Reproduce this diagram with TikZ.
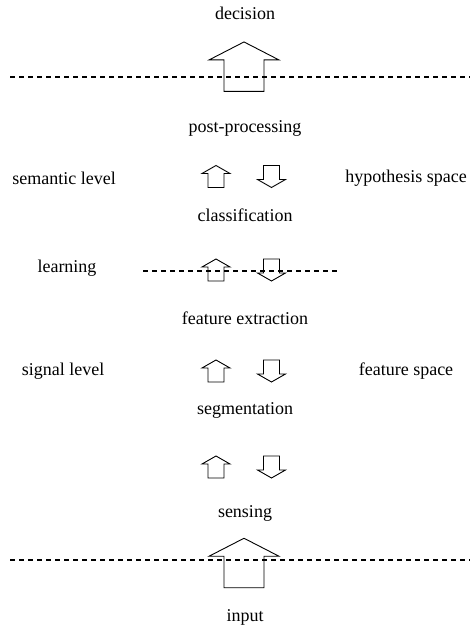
\documentclass[tikz,border=0pt]{standalone}
\usepackage{fontspec}
\setmainfont{Liberation Serif}
\tikzset{
  lbl/.style={font=\fontsize{18}{20}\selectfont, inner sep=0pt},
  arrowline/.style={line width=0.9pt, line join=miter},
  border/.style={line width=1.9pt, dash pattern=on 5pt off 4pt},
  pics/blockarrow/.style={code={
    \draw[arrowline] (0,-11) -- (14,-3) -- (8,-3) -- (8,11) -- (-8,11) -- (-8,-3) -- (-14,-3) -- cycle;
  }}
}
\begin{document}
\begin{tikzpicture}[x=1pt,y=-1pt]
\useasboundingbox (0,0) rectangle (470,631);
% labels down the middle
\node[lbl] (decision) at (245,13) {decision};
\node[lbl] (post) at (245,128) {post-processing};
\node[lbl] (classif) at (245,215) {classification};
\node[lbl] (featext) at (245,318) {feature extraction};
\node[lbl] (segm) at (245,410) {segmentation};
\node[lbl] (sensing) at (245,513) {sensing};
\node[lbl] (input) at (245,617) {input};
% side labels
\node[lbl] (semantic) at (64,178) {semantic level};
\node[lbl,anchor=east] (hypo) at (467,178) {hypothesis space};
\node[lbl] (learning) at (67,268) {learning};
\node[lbl] (signal) at (63,371) {signal level};
\node[lbl] (featsp) at (406,371) {feature space};
% dashed borders
\draw[border] (10,77) -- (470,77);
\draw[border] (143,271) -- (340,271);
\draw[border] (10,560) -- (470,560);
% big arrows
\pic[xscale=2.5,yscale=2.25] at (244,66.7) {blockarrow};
\pic[xscale=2.5,yscale=2.25] at (244,563) {blockarrow};
% small arrows
\foreach \y in {176.5,270,371,467}{
  \pic at (216,\y) {blockarrow};
  \pic[yscale=-1] at (271.5,\y) {blockarrow};
}
\end{tikzpicture}
\end{document}
